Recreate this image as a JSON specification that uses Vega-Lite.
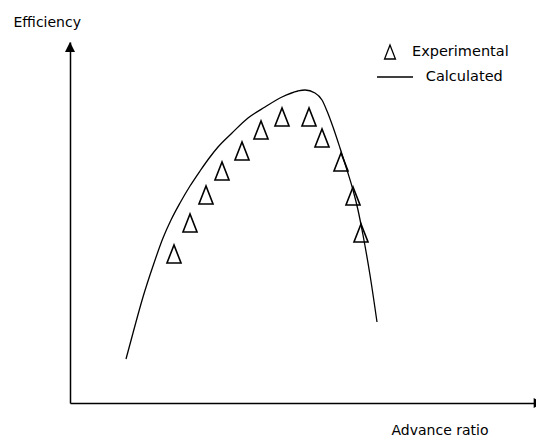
{
  "$schema": "https://vega.github.io/schema/vega-lite/v6.json",
  "width": 466,
  "height": 361,
  "autosize": {"type": "none"},
  "padding": {"left": 70, "top": 42, "right": 0, "bottom": 34},
  "background": "white",
  "config": {
    "view": {"stroke": null},
    "font": "DejaVu Sans",
    "axis": {"grid": false, "ticks": false, "labels": false, "domainColor": "black", "domainWidth": 1.5,
             "titleFont": "DejaVu Sans", "titleFontSize": 14, "titleFontWeight": "normal", "titleColor": "black"}
  },
  "datasets": {
    "calc": [
      {"series": "Calculated", "x": 56, "y": 44},
      {"series": "Calculated", "x": 63, "y": 70},
      {"series": "Calculated", "x": 73, "y": 106},
      {"series": "Calculated", "x": 83, "y": 137},
      {"series": "Calculated", "x": 93, "y": 165},
      {"series": "Calculated", "x": 101, "y": 183},
      {"series": "Calculated", "x": 110, "y": 200},
      {"series": "Calculated", "x": 120, "y": 217},
      {"series": "Calculated", "x": 130, "y": 232},
      {"series": "Calculated", "x": 140, "y": 246},
      {"series": "Calculated", "x": 148, "y": 256},
      {"series": "Calculated", "x": 162, "y": 270},
      {"series": "Calculated", "x": 178, "y": 285},
      {"series": "Calculated", "x": 195, "y": 296},
      {"series": "Calculated", "x": 212, "y": 306},
      {"series": "Calculated", "x": 228, "y": 312},
      {"series": "Calculated", "x": 235, "y": 313},
      {"series": "Calculated", "x": 245, "y": 310},
      {"series": "Calculated", "x": 252, "y": 303},
      {"series": "Calculated", "x": 257, "y": 292},
      {"series": "Calculated", "x": 263, "y": 276},
      {"series": "Calculated", "x": 270, "y": 255},
      {"series": "Calculated", "x": 277, "y": 233},
      {"series": "Calculated", "x": 283, "y": 213},
      {"series": "Calculated", "x": 288, "y": 193},
      {"series": "Calculated", "x": 293, "y": 168},
      {"series": "Calculated", "x": 300, "y": 128},
      {"series": "Calculated", "x": 307, "y": 81}
    ],
    "exp": [
      {"series": "Experimental", "x": 104, "y": 149},
      {"series": "Experimental", "x": 120, "y": 180},
      {"series": "Experimental", "x": 136, "y": 208},
      {"series": "Experimental", "x": 152, "y": 232},
      {"series": "Experimental", "x": 172, "y": 252},
      {"series": "Experimental", "x": 191, "y": 273},
      {"series": "Experimental", "x": 212, "y": 286},
      {"series": "Experimental", "x": 239, "y": 286},
      {"series": "Experimental", "x": 252, "y": 265},
      {"series": "Experimental", "x": 271, "y": 241},
      {"series": "Experimental", "x": 283, "y": 207},
      {"series": "Experimental", "x": 291, "y": 170}
    ],
    "yarrow": [{"x": 0, "y": 356}],
    "xarrow": [{"x": 468, "y": 0}]
  },
  "encoding": {
    "x": {"field": "x", "type": "quantitative", "scale": {"domain": [0, 466], "nice": false, "zero": false},
          "axis": {"title": "Advance ratio", "titleAlign": "left", "titleBaseline": "middle", "titleX": 321, "titleY": 27}},
    "y": {"field": "y", "type": "quantitative", "scale": {"domain": [0, 361], "nice": false, "zero": false},
          "axis": {"title": "Efficiency", "titleAngle": 0, "titleAlign": "left", "titleBaseline": "middle", "titleX": -57, "titleY": -20}}
  },
  "layer": [
    {
      "data": {"name": "calc"},
      "mark": {"type": "line", "interpolate": "monotone", "color": "black", "strokeWidth": 1.3}
    },
    {
      "data": {"name": "exp"},
      "mark": {"type": "point", "filled": false, "color": "black", "strokeWidth": 1.6, "size": 324, "opacity": 1},
      "encoding": {
        "shape": {
          "field": "series", "type": "nominal",
          "scale": {"domain": ["Experimental", "Calculated"], "range": ["M0,-1L-0.78,1L0.78,1Z", "M-1.86,0L3.29,0"]},
          "legend": {
            "title": null, "orient": "none", "legendX": 312, "legendY": 2,
            "symbolSize": 196, "symbolStrokeColor": "black", "symbolFillColor": "transparent", "symbolStrokeWidth": 1.3,
            "symbolOpacity": 1,
            "labelFont": "DejaVu Sans", "labelFontSize": 14.5, "labelColor": "black", "labelOffset": 14, "rowPadding": 7,
            "labelExpr": "datum.value === 'Calculated' ? '\u200b\u00a0\u00a0\u00a0Calculated' : datum.label"
          }
        }
      }
    },
    {
      "data": {"name": "yarrow"},
      "mark": {"type": "point", "shape": "M0,-1L-1,1L1,1Z", "filled": true, "color": "black", "size": 100, "opacity": 1}
    },
    {
      "data": {"name": "xarrow"},
      "mark": {"type": "point", "shape": "triangle-right", "filled": true, "color": "black", "size": 100, "opacity": 1}
    }
  ]
}
